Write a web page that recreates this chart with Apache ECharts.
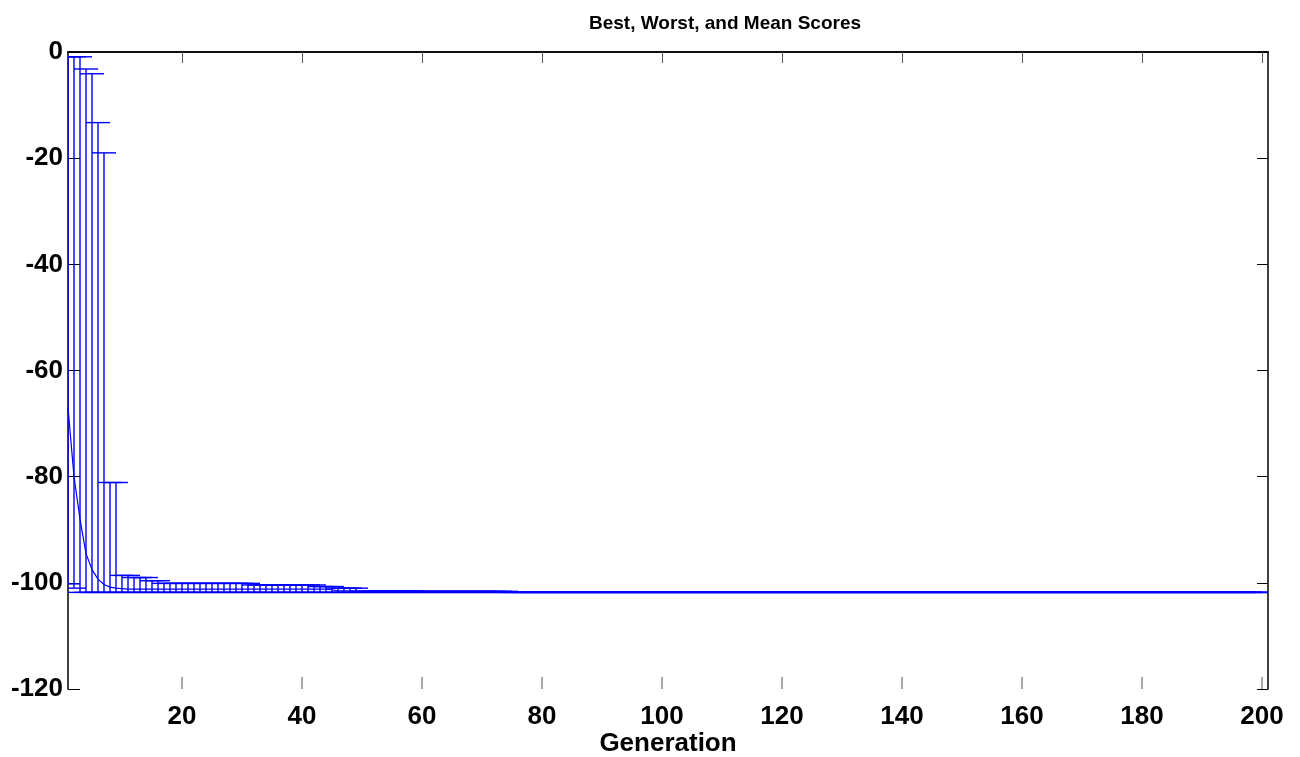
<!DOCTYPE html>
<html>
<head>
<meta charset="utf-8">
<script src="https://cdn.jsdelivr.net/npm/echarts@6/dist/echarts.min.js"></script>
<style>
  html, body { margin: 0; padding: 0; background: #fff; }
  #chart { width: 1300px; height: 757px; }
</style>
</head>
<body>
<div id="chart"></div>
<script>
// tick labels
var xTicks = [20, 40, 60, 80, 100, 120, 140, 160, 180, 200];
var yTicks = [0, -20, -40, -60, -80, -100, -120];

// worst score per generation (top of each bar), generation 1..200
var worstScores = [
  -0.9, -0.9, -0.9, -3.2, -4.1, -13.3, -19.0, -81.1, -81.1, -98.6,
  -98.6, -99.0, -99.0, -99.0, -99.6, -99.6, -100.1, -100.1, -100.1, -100.1,
  -100.1, -100.1, -100.1, -100.1, -100.1, -100.1, -100.1, -100.1, -100.1, -100.1,
  -100.1, -100.4, -100.4, -100.4, -100.4, -100.4, -100.4, -100.4, -100.4, -100.4,
  -100.4, -100.4, -100.7, -100.7, -100.7, -101.0, -101.0, -101.0, -101.0, -101.6,
  -101.6, -101.6, -101.6, -101.6, -101.6, -101.6, -101.6, -101.6, -101.6, -101.6,
  -101.6, -101.6, -101.6, -101.6, -101.6, -101.6, -101.6, -101.6, -101.6, -101.6,
  -101.6, -101.6, -101.6, -101.6, -101.8, -101.8, -101.8, -101.8, -101.8, -101.8,
  -101.8, -101.8, -101.8, -101.8, -101.8, -101.8, -101.8, -101.8, -101.8, -101.8,
  -101.8, -101.8, -101.8, -101.8, -101.8, -101.8, -101.8, -101.8, -101.8, -101.8,
  -101.8, -101.8, -101.8, -101.8, -101.8, -101.8, -101.8, -101.8, -101.8, -101.8,
  -101.8, -101.8, -101.8, -101.8, -101.8, -101.8, -101.8, -101.8, -101.8, -101.8,
  -101.8, -101.8, -101.8, -101.8, -101.8, -101.8, -101.8, -101.8, -101.8, -101.8,
  -101.8, -101.8, -101.8, -101.8, -101.8, -101.8, -101.8, -101.8, -101.8, -101.8,
  -101.8, -101.8, -101.8, -101.8, -101.8, -101.8, -101.8, -101.8, -101.8, -101.8,
  -101.8, -101.8, -101.8, -101.8, -101.8, -101.8, -101.8, -101.8, -101.8, -101.8,
  -101.8, -101.8, -101.8, -101.8, -101.8, -101.8, -101.8, -101.8, -101.8, -101.8,
  -101.8, -101.8, -101.8, -101.8, -101.8, -101.8, -101.8, -101.8, -101.8, -101.8,
  -101.8, -101.8, -101.8, -101.8, -101.8, -101.8, -101.8, -101.8, -101.8, -101.8,
  -101.8, -101.8, -101.8, -101.8, -101.8, -101.8, -101.8, -101.8, -101.8, -101.8
];

// best score per generation (bottom of each bar)
var bestScores = [
  -100.2, -101.0, -101.8, -101.8, -101.8, -101.8, -101.8, -101.8, -101.8, -101.8,
  -101.8, -101.8, -101.8, -101.8, -101.8, -101.8, -101.8, -101.8, -101.8, -101.8,
  -101.8, -101.8, -101.8, -101.8, -101.8, -101.8, -101.8, -101.8, -101.8, -101.8,
  -101.8, -101.8, -101.8, -101.8, -101.8, -101.8, -101.8, -101.8, -101.8, -101.8,
  -101.8, -101.8, -101.8, -101.8, -101.8, -101.8, -101.8, -101.8, -101.8, -101.8,
  -101.8, -101.8, -101.8, -101.8, -101.8, -101.8, -101.8, -101.8, -101.8, -101.8,
  -101.8, -101.8, -101.8, -101.8, -101.8, -101.8, -101.8, -101.8, -101.8, -101.8,
  -101.8, -101.8, -101.8, -101.8, -101.8, -101.8, -101.8, -101.8, -101.8, -101.8,
  -101.8, -101.8, -101.8, -101.8, -101.8, -101.8, -101.8, -101.8, -101.8, -101.8,
  -101.8, -101.8, -101.8, -101.8, -101.8, -101.8, -101.8, -101.8, -101.8, -101.8,
  -101.8, -101.8, -101.8, -101.8, -101.8, -101.8, -101.8, -101.8, -101.8, -101.8,
  -101.8, -101.8, -101.8, -101.8, -101.8, -101.8, -101.8, -101.8, -101.8, -101.8,
  -101.8, -101.8, -101.8, -101.8, -101.8, -101.8, -101.8, -101.8, -101.8, -101.8,
  -101.8, -101.8, -101.8, -101.8, -101.8, -101.8, -101.8, -101.8, -101.8, -101.8,
  -101.8, -101.8, -101.8, -101.8, -101.8, -101.8, -101.8, -101.8, -101.8, -101.8,
  -101.8, -101.8, -101.8, -101.8, -101.8, -101.8, -101.8, -101.8, -101.8, -101.8,
  -101.8, -101.8, -101.8, -101.8, -101.8, -101.8, -101.8, -101.8, -101.8, -101.8,
  -101.8, -101.8, -101.8, -101.8, -101.8, -101.8, -101.8, -101.8, -101.8, -101.8,
  -101.8, -101.8, -101.8, -101.8, -101.8, -101.8, -101.8, -101.8, -101.8, -101.8,
  -101.8, -101.8, -101.8, -101.8, -101.8, -101.8, -101.8, -101.8, -101.8, -101.8
];

// mean score per generation
var meanScores = [
  -67.0, -80.0, -88.0, -94.5, -97.5, -99.3, -100.3, -100.8, -101.0, -101.1,
  -101.2, -101.2, -101.2, -101.2, -101.2, -101.2, -101.2, -101.2, -101.2, -101.2,
  -101.2, -101.2, -101.2, -101.2, -101.2, -101.2, -101.2, -101.2, -101.2, -101.2,
  -101.2, -101.2, -101.2, -101.2, -101.2, -101.2, -101.2, -101.2, -101.2, -101.2,
  -101.2, -101.2, -101.2, -101.2, -101.3, -101.5, -101.5, -101.5, -101.5, -101.5,
  -101.5, -101.5, -101.5, -101.5, -101.5, -101.5, -101.5, -101.5, -101.5, -101.5,
  -101.7, -101.7, -101.7, -101.7, -101.7, -101.7, -101.7, -101.7, -101.7, -101.7,
  -101.7, -101.7, -101.7, -101.7, -101.8, -101.8, -101.8, -101.8, -101.8, -101.8,
  -101.8, -101.8, -101.8, -101.8, -101.8, -101.8, -101.8, -101.8, -101.8, -101.8,
  -101.8, -101.8, -101.8, -101.8, -101.8, -101.8, -101.8, -101.8, -101.8, -101.8,
  -101.8, -101.8, -101.8, -101.8, -101.8, -101.8, -101.8, -101.8, -101.8, -101.8,
  -101.8, -101.8, -101.8, -101.8, -101.8, -101.8, -101.8, -101.8, -101.8, -101.8,
  -101.8, -101.8, -101.8, -101.8, -101.8, -101.8, -101.8, -101.8, -101.8, -101.8,
  -101.8, -101.8, -101.8, -101.8, -101.8, -101.8, -101.8, -101.8, -101.8, -101.8,
  -101.8, -101.8, -101.8, -101.8, -101.8, -101.8, -101.8, -101.8, -101.8, -101.8,
  -101.8, -101.8, -101.8, -101.8, -101.8, -101.8, -101.8, -101.8, -101.8, -101.8,
  -101.8, -101.8, -101.8, -101.8, -101.8, -101.8, -101.8, -101.8, -101.8, -101.8,
  -101.8, -101.8, -101.8, -101.8, -101.8, -101.8, -101.8, -101.8, -101.8, -101.8,
  -101.8, -101.8, -101.8, -101.8, -101.8, -101.8, -101.8, -101.8, -101.8, -101.8,
  -101.8, -101.8, -101.8, -101.8, -101.8, -101.8, -101.8, -101.8, -101.8, -101.8
];

var chart = echarts.init(document.getElementById('chart'));

// bars: [generation, best, worst]
var barData = bestScores.map(function (b, i) { return [i + 1, b, worstScores[i]]; });
var meanData = meanScores.map(function (m, i) { return [i + 1, m]; });
var yMin = -120;

var blue = '#0000ff';
var fontFam = '"Liberation Sans", Arial, Helvetica, sans-serif';

// vertical line best..worst with a cap on both ends (cap half width = 2 generations)
function renderBar(params, api) {
  var g = api.value(0);
  var lo = api.coord([g, api.value(1)]);
  var hi = api.coord([g, api.value(2)]);
  var half = api.size([2, 0])[0];
  var st = { stroke: blue, lineWidth: 1.4 };
  return {
    type: 'group',
    children: [
      { type: 'line', shape: { x1: lo[0], y1: lo[1], x2: hi[0], y2: hi[1] }, style: st },
      { type: 'line', shape: { x1: lo[0] - half, y1: lo[1], x2: lo[0] + half, y2: lo[1] }, style: st },
      { type: 'line', shape: { x1: hi[0] - half, y1: hi[1], x2: hi[0] + half, y2: hi[1] }, style: st }
    ]
  };
}

// inward ticks on the bottom axis line
function renderBottomTick(params, api) {
  var p = api.coord([api.value(0), yMin]);
  return {
    type: 'line',
    shape: { x1: p[0], y1: p[1], x2: p[0], y2: p[1] - 12 },
    style: { stroke: '#555', lineWidth: 1 }
  };
}

var option = {
  animation: false,
  backgroundColor: '#fff',
  title: {
    text: 'Best, Worst, and Mean Scores',
    left: 584,
    top: 9,
    textStyle: { fontFamily: fontFam, fontWeight: 'bold', fontSize: 19, color: '#000' }
  },
  grid: { left: 68, right: 32, top: 52, bottom: 68, outerBoundsMode: 'none', containLabel: false },
  xAxis: [
    {
      type: 'value', min: 1, max: 201, position: 'bottom',
      name: 'Generation', nameLocation: 'middle', nameGap: 42, nameMoveOverlap: false,
      nameTextStyle: { fontFamily: fontFam, fontWeight: 'bold', fontSize: 26, color: '#000' },
      axisLine: { lineStyle: { color: '#000', width: 1.5 } },
      axisTick: { show: false },
      axisLabel: { customValues: xTicks, margin: 15, fontFamily: fontFam, fontWeight: 'bold', fontSize: 26, color: '#000' },
      splitLine: { show: false }
    },
    {
      type: 'value', min: 1, max: 201, position: 'top',
      axisLine: { lineStyle: { color: '#000', width: 1.5 } },
      axisTick: { show: true, inside: true, length: 11, customValues: xTicks, lineStyle: { color: '#555' } },
      axisLabel: { show: false },
      splitLine: { show: false }
    }
  ],
  yAxis: [
    {
      type: 'value', min: yMin, max: 0, interval: 20, position: 'left',
      axisLine: { show: true, lineStyle: { color: '#000', width: 1.5 } },
      axisTick: { show: true, inside: true, length: 12, lineStyle: { color: '#000' } },
      axisLabel: { margin: 5, showMinLabel: true, showMaxLabel: true, fontFamily: fontFam, fontWeight: 'bold', fontSize: 26, color: '#000' },
      splitLine: { show: false }
    },
    {
      type: 'value', min: yMin, max: 0, interval: 20, position: 'right',
      axisLine: { show: true, lineStyle: { color: '#000', width: 1.5 } },
      axisTick: { show: true, inside: true, length: 11, lineStyle: { color: '#000' } },
      axisLabel: { show: false },
      splitLine: { show: false }
    }
  ],
  series: [
    {
      type: 'custom',
      name: 'bottomTicks',
      xAxisIndex: 0, yAxisIndex: 0,
      renderItem: renderBottomTick,
      clip: false,
      silent: true,
      encode: { x: 0 },
      data: xTicks.map(function (v) { return [v]; }),
      z: 1
    },
    {
      type: 'custom',
      name: 'range',
      xAxisIndex: 0, yAxisIndex: 0,
      renderItem: renderBar,
      clip: true,
      encode: { x: 0, y: [1, 2] },
      data: barData,
      z: 2
    },
    {
      type: 'line',
      name: 'mean',
      xAxisIndex: 0, yAxisIndex: 0,
      data: meanData,
      showSymbol: false,
      lineStyle: { color: blue, width: 1.2 },
      z: 3
    }
  ]
};

chart.setOption(option);
</script>
</body>
</html>
